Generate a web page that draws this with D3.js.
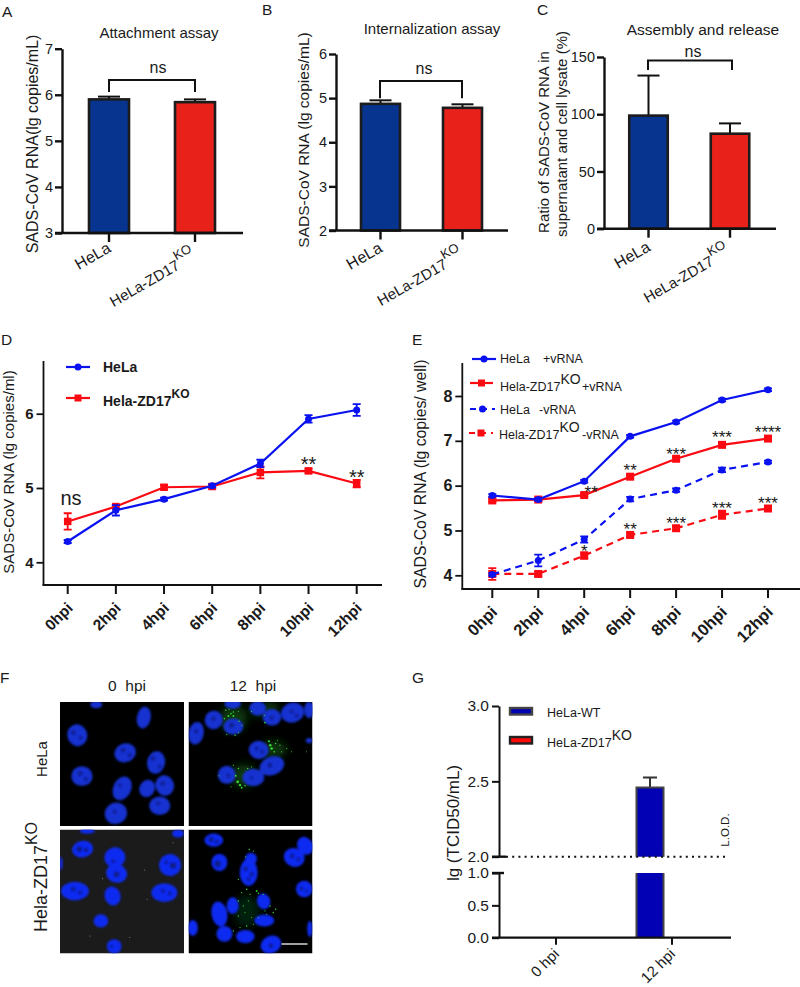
<!DOCTYPE html>
<html><head><meta charset="utf-8">
<script src="https://cdn.jsdelivr.net/npm/d3@7"></script>
<style>
html,body{margin:0;padding:0;background:#fff}
svg{display:block}
text{font-family:"Liberation Sans",Arial,sans-serif;fill:#1a1a1a}
</style></head><body>
<svg id="c" width="800" height="987"></svg>
<script>
// ---------- data ----------
const barCategories = ["HeLa", "HeLa-ZD17"];
const attachmentValues = [5.90, 5.84];
const attachmentErrors = [0.06, 0.06];
const internalizationValues = [4.87, 4.78];
const internalizationErrors = [0.08, 0.08];
const assemblyValues = [98.8, 83];
const assemblyErrors = [35, 9];

const hpiLabels = ["0hpi","2hpi","4hpi","6hpi","8hpi","10hpi","12hpi"];
const dHela = [4.28,4.70,4.85,5.03,5.33,5.93,6.05];
const dHelaErr = [0.02,0.07,0.02,0.02,0.05,0.05,0.08];
const dKo = [4.55,4.75,5.01,5.02,5.21,5.23,5.06];
const dKoErr = [0.11,0.02,0.03,0.03,0.08,0.03,0.05];
const dMarks = [[5,"**",5.36],[6,"**",5.19]];

const eHelaPlus = [5.78,5.69,6.10,7.10,7.42,7.91,8.14];
const eKoPlus = [5.67,5.69,5.79,6.20,6.60,6.91,7.05];
const eHelaMinus = [4.02,4.33,4.80,5.70,5.90,6.35,6.53];
const eHelaMinusErr = [0.03,0.13,0.07,0.05,0.04,0.05,0.03];
const eKoMinus = [4.03,4.03,4.44,4.90,5.05,5.35,5.49];
const eKoMinusErr = [0.13,0.05,0.07,0.05,0.04,0.09,0.03];
const eSmallErr = [0.03,0.03,0.03,0.03,0.03,0.03,0.03];
const eMarks = [[2,"**",5.93],[3,"**",6.42],[4,"***",6.77],[5,"***",7.15],[6,"****",7.26],
                [2,"*",4.62],[3,"**",5.11],[4,"***",5.24],[5,"***",5.57],[6,"***",5.68]];

const gCategories = ["0 hpi","12 hpi"];
const gWT = [0, 2.46];
const gWTErr = [0, 0.065];
const gKO = [0, 0];

// micrographs: nuclei [x, y, rx, ry, angle], in image units 0..373
const n00 = [[52,100,30,33,-20],[252,47,21,33,10],[196,153,33,28,-20],[289,182,27,34,10],[66,223,32,30,0],[187,260,27,37,25],[262,260,23,27,25],[315,251,28,31,-15],[300,312,32,28,0],[168,335,34,32,-20],[109,8,18,11,0]];
const n01 = [[23,94,23,34,10],[76,54,27,28,20],[135,74,30,24,0],[133,6,25,14,0],[208,19,25,22,0],[251,46,28,25,0],[313,32,35,30,-15],[363,24,15,25,0],[211,144,30,27,10],[251,192,38,28,-20],[195,227,33,26,0],[115,219,27,27,0],[363,116,10,8,0]];
const n10 = [[68,59,32,25,-10],[165,84,32,30,-20],[170,132,32,28,15],[331,107,33,33,-15],[45,185,42,28,0],[158,200,24,29,-15],[314,190,39,28,0],[123,275,22,20,0],[163,352,22,22,0],[3,102,5,20,0],[82,5,22,8,0],[355,12,18,12,0]];
const n11 = [[76,32,28,20,0],[93,99,24,26,0],[181,129,27,40,0],[188,88,18,18,0],[318,84,32,28,20],[351,49,23,28,-30],[348,179,25,25,0],[226,216,20,24,-15],[133,229,18,25,0],[93,254,24,38,-10],[108,314,24,24,0],[171,322,28,20,0],[248,346,32,26,-25],[13,296,15,24,0],[365,299,8,24,0],[228,274,30,18,0]];
// nucleoli [x, y, r]
const d00 = [[40,92,6],[62,108,5],[190,145,6],[210,160,5],[280,170,6],[300,195,5],[60,215,6],[78,232,5],[180,250,5],[310,245,6],[295,305,5],[165,330,5]];
const d10 = [[58,59,8],[78,62,6],[340,108,9],[320,98,5],[160,95,5],[170,135,8],[40,180,6],[60,190,5],[310,185,5],[330,192,5],[155,352,4]];
const d11 = [[68,30,7],[85,36,5],[88,103,9],[172,118,6],[190,135,6],[180,150,5],[312,80,6],[330,90,5],[340,178,5],[355,185,4],[248,350,6]];
const d01 = [[23,88,5],[75,50,6],[130,70,7],[205,140,5],[222,150,5],[245,190,6],[310,28,5],[325,40,5],[250,48,5],[120,222,5],[190,228,4]];
// green haze [x, y, rx, ry]
const h01 = [[135,50,40,40],[245,18,28,18],[255,143,40,24],[165,222,38,34],[210,32,28,10]];
const h11 = [[175,245,38,48]];
// green speckles [x, y, r]
const g01 = [[112,25,1.5],[122,22,1.2],[135,30,1.5],[150,28,1.2],[108,50,1.6],[120,42,2],[135,42,2],[128,35,1.6],[152,58,1.5],[160,70,1.2],[115,98,1.3],[140,100,1.5],[150,92,1.2],[230,62,1.8],[228,40,1.2],[190,28,1.2],[242,118,2.2],[246,130,2.6],[250,140,2.6],[262,125,1.5],[275,130,1.3],[258,150,1.6],[280,150,1.2],[295,140,1.2],[310,150,1],[150,200,1.5],[142,222,2],[148,240,2.8],[155,250,2.4],[160,258,1.8],[170,252,1.5],[178,200,1.6],[190,195,1.2],[92,222,1.2],[135,190,1.2],[128,255,1.2],[355,150,1],[268,115,1.2]];
const g11 = [[183,60,1.5],[195,65,1.2],[172,82,1.2],[150,150,1.3],[175,180,1.6],[205,185,1.8],[210,192,1.5],[185,195,1.3],[160,190,1.3],[150,215,1.6],[165,230,1.3],[180,215,1.2],[225,195,1.2],[245,230,1.5],[262,240,1.5],[255,250,1.5],[230,245,1.2],[150,260,1.3],[155,295,1.2],[175,290,1.5],[195,285,1.2],[135,305,1.3],[235,255,1.2],[210,265,1.1],[190,265,1.1],[170,250,1.1]];
const g10 = [[128,148,1.1],[255,122,1],[90,320,1],[210,325,1],[262,210,1],[340,40,1]];

// ---------- helpers ----------
const svg = d3.select("#c");
const BLUE="#07348f", RED="#e8221b", INK="#1a1a1a";
const LB="#0a12f0", LR="#fb0a12";

function txt(g,x,y,s,size,o={}){
  return g.append("text").attr("x",x).attr("y",y).text(s).attr("font-size",size)
    .attr("text-anchor",o.anchor||"start").attr("font-weight",o.weight||"normal")
    .attr("transform",o.rot!=null?`rotate(${o.rot},${x},${y})`:null);
}
function supLabel(g,x,y,base,sup,size,o={}){
  const t=g.append("text").attr("font-size",size).attr("x",x).attr("y",y)
    .attr("text-anchor",o.anchor||"start").attr("font-weight",o.weight||"normal")
    .attr("transform",o.rot!=null?`rotate(${o.rot},${x},${y})`:null);
  t.append("tspan").text(base);
  t.append("tspan").text(sup).attr("dy",-(o.rise||size*0.55)).attr("font-size",o.supSize||size);
  return t;
}
function styleAxis(a,w,size,weight){
  a.selectAll("path,line").attr("stroke","#111").attr("stroke-width",w);
  a.selectAll("text").attr("font-size",size).attr("font-weight",weight||"normal")
    .style("font-family",'"Liberation Sans",Arial,sans-serif').attr("fill",INK);
}

function barPanel(p){
  const g=svg.append("g");
  const y=d3.scaleLinear().domain(p.yDomain).range([p.y0,p.y1]);
  const x=d3.scalePoint().domain(barCategories).range(p.centers);
  const ax=g.append("g").attr("transform",`translate(${p.axisX},0)`)
    .call(d3.axisLeft(y).tickValues(p.ticks).tickFormat(d3.format("d")).tickSize(7).tickSizeOuter(0).tickPadding(2));
  styleAxis(ax,2.4,14.5);
  barCategories.forEach((c,i)=>{
    const cx=x(c),v=p.values[i],e=p.errors[i];
    g.append("line").attr("x1",cx).attr("x2",cx).attr("y1",y(v)).attr("y2",y(v+e)).attr("stroke","#111").attr("stroke-width",2);
    g.append("line").attr("x1",cx-p.cap).attr("x2",cx+p.cap).attr("y1",y(v+e)).attr("y2",y(v+e)).attr("stroke","#111").attr("stroke-width",2);
    g.append("rect").attr("x",cx-p.bw/2).attr("width",p.bw).attr("y",y(v)).attr("height",y(p.yDomain[0])-y(v))
      .attr("fill",i?RED:BLUE).attr("stroke","#1c1c1c").attr("stroke-width",2.6);
    g.append("line").attr("x1",cx).attr("x2",cx).attr("y1",p.y0).attr("y2",p.y0+9).attr("stroke","#111").attr("stroke-width",2.4);
  });
  g.append("line").attr("x1",p.axisX-7).attr("x2",p.xEnd).attr("y1",p.y0).attr("y2",p.y0).attr("stroke","#111").attr("stroke-width",2.4);
  const cs=p.centers,bt=y(p.bracket[0]),bb=y(p.bracket[1]);
  g.append("path").attr("d",d3.line()([[p.bracketX[0],bb],[p.bracketX[0],bt],[p.bracketX[1],bt],[p.bracketX[1],bb]]))
    .attr("fill","none").attr("stroke","#111").attr("stroke-width",2);
  txt(g,p.ns[0],p.ns[1],"ns",16,{anchor:"middle"});
  txt(g,p.title[1],p.title[2],p.title[0],p.title[3],{anchor:"middle"});
  txt(g,p.letter[1],p.letter[2],p.letter[0],15.5);
  p.yLabels.forEach(l=>txt(g,l[1],l[2],l[0],l[3],{anchor:"middle",rot:-90}));
  txt(g,cs[0]+3,p.lab[0],barCategories[0],16,{anchor:"end",rot:-30});
  supLabel(g,cs[1]+p.lab[1],p.lab[2],barCategories[1],"KO",15,{anchor:"end",rot:-30,rise:9,supSize:13});
}

barPanel({values:attachmentValues,errors:attachmentErrors,yDomain:[3,7],ticks:[3,4,5,6,7],y0:233,y1:48.7,axisX:62,xEnd:243,
  centers:[109,195],bw:40,cap:11,bracket:[6.32,6.06],bracketX:[109,195],ns:[158,73],title:["Attachment assay",159,38,15],
  letter:["A",2,17],yLabels:[["SADS-CoV RNA(lg copies/mL)",38,144,16]],lab:[251,2,259]});
barPanel({values:internalizationValues,errors:internalizationErrors,yDomain:[2,6],ticks:[2,3,4,5,6],y0:230.5,y1:54,axisX:336,xEnd:508,
  centers:[380.5,462.5],bw:39,cap:11,bracket:[5.39,5.0],bracketX:[380,462],ns:[424,74],title:["Internalization assay",432,34,15],
  letter:["B",262,15],yLabels:[["SADS-CoV RNA (lg copies/mL)",309,140,15.5]],lab:[251,2,258]});
barPanel({values:assemblyValues,errors:assemblyErrors,yDomain:[0,150],ticks:[0,50,100,150],y0:228.7,y1:57,axisX:604,xEnd:776,
  centers:[648.5,730],bw:38.5,cap:11,bracket:[147,138.6],bracketX:[648,732],ns:[693,57],title:["Assembly and release",703,35,15.5],
  letter:["C",537,15],yLabels:[["Ratio of SADS-CoV RNA in",549,142,15],["supernatant and cell lysate (%)",567,134,15]],lab:[250,1,255]});

function series(g,x,y,vals,errs,color,o={}){
  if(errs) vals.forEach((v,i)=>{
    const cx=x(hpiLabels[i]);
    g.append("path").attr("d",`M${cx-4},${y(v-errs[i])}H${cx+4}M${cx-4},${y(v+errs[i])}H${cx+4}M${cx},${y(v-errs[i])}V${y(v+errs[i])}`)
      .attr("fill","none").attr("stroke",color).attr("stroke-width",1.8);
  });
  g.append("path").datum(vals).attr("fill","none").attr("stroke",color).attr("stroke-width",2.2)
    .attr("stroke-dasharray",o.dash||null)
    .attr("d",d3.line().x((d,i)=>x(hpiLabels[i])).y(d=>y(d)));
  vals.forEach((v,i)=>marker(g,x(hpiLabels[i]),y(v),o.square,color,o.size));
}
function marker(g,cx,cy,square,color,size){
  const s=size||7.5;
  if(square) g.append("rect").attr("x",cx-s/2).attr("y",cy-s/2).attr("width",s).attr("height",s).attr("fill",color);
  else g.append("circle").attr("cx",cx).attr("cy",cy).attr("r",s/2).attr("fill",color);
}
function timeFrame(g,p){
  const y=d3.scaleLinear().domain(p.yDomain).range(p.yRange);
  const x=d3.scalePoint().domain(hpiLabels).range(p.xRange);
  const ax=g.append("g").attr("transform",`translate(${p.axisX},0)`)
    .call(d3.axisLeft(y).tickValues(p.ticks).tickFormat(d3.format("d")).tickSize(7).tickSizeOuter(0).tickPadding(3));
  styleAxis(ax,1.8,p.tickFont,"bold");
  ax.select("path").attr("d",`M0,${p.top}V${p.bottom}`);
  g.append("line").attr("x1",p.axisX-1).attr("x2",p.xEnd).attr("y1",p.bottom).attr("y2",p.bottom).attr("stroke","#111").attr("stroke-width",2);
  hpiLabels.forEach(l=>{
    g.append("line").attr("x1",x(l)).attr("x2",x(l)).attr("y1",p.bottom).attr("y2",p.bottom+9).attr("stroke","#111").attr("stroke-width",2);
    txt(g,x(l)+6,p.bottom+24,l,p.catFont,{anchor:"end",weight:"bold",rot:-45});
  });
  return {x,y};
}

// ---------- D ----------
{
  const g=svg.append("g");
  const {x,y}=timeFrame(g,{yDomain:[4,6],yRange:[562.3,413.7],xRange:[67.7,356.7],axisX:43.5,xEnd:382,top:361,bottom:585,ticks:[4,5,6],tickFont:15,catFont:15.5});
  series(g,x,y,dKo,dKoErr,LR,{square:true,size:7.5});
  series(g,x,y,dHela,dHelaErr,LB,{size:7});
  dMarks.forEach(m=>txt(g,x(hpiLabels[m[0]]),y(m[2])+10,m[1],20,{anchor:"middle"}));
  txt(g,71,505,"ns",20,{anchor:"middle"});
  txt(g,1,345,"D",15.5);
  txt(g,14,472,"SADS-CoV RNA (lg copies/ml)",15,{anchor:"middle",rot:-90});
  g.append("line").attr("x1",66).attr("x2",90).attr("y1",367).attr("y2",367).attr("stroke",LB).attr("stroke-width",2.2);
  marker(g,78,367,false,LB,7);
  g.append("line").attr("x1",66).attr("x2",90).attr("y1",398).attr("y2",398).attr("stroke",LR).attr("stroke-width",2.2);
  marker(g,78,398,true,LR,7);
  txt(g,103,372,"HeLa",14,{weight:"bold"});
  supLabel(g,103,406,"Hela-ZD17","KO",14,{weight:"bold",rise:8,supSize:12});
}
// ---------- E ----------
{
  const g=svg.append("g");
  const {x,y}=timeFrame(g,{yDomain:[4,8],yRange:[575.3,396],xRange:[492.3,768],axisX:462.3,xEnd:800,top:363,bottom:589,ticks:[4,5,6,7,8],tickFont:16,catFont:16.5});
  series(g,x,y,eKoMinus,eKoMinusErr,LR,{square:true,dash:"7,5",size:8});
  series(g,x,y,eHelaMinus,eHelaMinusErr,LB,{dash:"7,5",size:7});
  series(g,x,y,eKoPlus,eSmallErr,LR,{square:true,size:8});
  series(g,x,y,eHelaPlus,eSmallErr,LB,{size:7});
  eMarks.forEach(m=>txt(g,x(hpiLabels[m[0]])+(m[0]==2&&m[1]=="**"?7:0),y(m[2])+9,m[1],17,{anchor:"middle"}));
  txt(g,412,345,"E",15.5);
  txt(g,426,474,"SADS-CoV RNA (lg copies/ well)",15.8,{anchor:"middle",rot:-90});
  const leg=(x1,x2,ly,c,sq,dash)=>{
    g.append("line").attr("x1",x1).attr("x2",x2).attr("y1",ly).attr("y2",ly).attr("stroke",c).attr("stroke-width",2.2).attr("stroke-dasharray",dash||null);
    marker(g,(x1+x2)/2,ly,sq,c,7);
  };
  leg(472,496,359,LB,false); leg(470,493,383,LR,true);
  leg(470,495,409,LB,false,"6,5"); leg(469,493,433,LR,true,"6,5");
  txt(g,500,363,"HeLa",12.5); txt(g,543,363,"+vRNA",12.5);
  supLabel(g,500,391,"Hela-ZD17","KO",12.5,{rise:7,supSize:14});
  txt(g,582,391,"+vRNA",12.5);
  txt(g,500,414,"HeLa",12.5); txt(g,539,414,"-vRNA",12.5);
  supLabel(g,499,439,"Hela-ZD17","KO",12.5,{rise:7,supSize:14});
  txt(g,582,439,"-vRNA",12.5);
}
// ---------- F ----------
{
  const g=svg.append("g");
  const defs=svg.append("defs");
  defs.append("filter").attr("id","soft").append("feGaussianBlur").attr("stdDeviation",0.9);
  defs.append("filter").attr("id","dark").append("feGaussianBlur").attr("stdDeviation",1.2);
  defs.append("filter").attr("id","haze").attr("x","-50%").attr("y","-50%").attr("width","200%").attr("height","200%").append("feGaussianBlur").attr("stdDeviation",4);
  const panels=[
    {x:60,y:702,bg:"#000",n:n00,d:d00,s:[],h:[]},
    {x:188.5,y:702,bg:"#000",n:n01,d:d01,s:g01,h:h01,green:"#35d635",haze:"#0a3a0d"},
    {x:60,y:829.5,bg:"#1b1b1b",n:n10,d:d10,s:g10,h:[],green:"#999999"},
    {x:188.5,y:829.5,bg:"#000",n:n11,d:d11,s:g11,h:h11,green:"#35d635",haze:"#04200a"}];
  panels.forEach((p,k)=>{
    const sx=d3.scaleLinear().domain([0,373]).range([p.x,p.x+124]);
    const sy=d3.scaleLinear().domain([0,373]).range([p.y,p.y+124]);
    const k3=124/373;
    defs.append("clipPath").attr("id","cp"+k).append("rect").attr("x",p.x).attr("y",p.y).attr("width",124).attr("height",124);
    const c=g.append("g").attr("clip-path",`url(#cp${k})`);
    c.append("rect").attr("x",p.x).attr("y",p.y).attr("width",124).attr("height",124).attr("fill",p.bg);
    c.append("g").attr("filter","url(#haze)").selectAll("ellipse").data(p.h).join("ellipse")
      .attr("cx",d=>sx(d[0])).attr("cy",d=>sy(d[1])).attr("rx",d=>d[2]*k3).attr("ry",d=>d[3]*k3).attr("fill",p.haze||"none");
    const nuc=c.append("g").attr("filter","url(#soft)");
    nuc.selectAll("ellipse").data(p.n).join("ellipse")
      .attr("cx",d=>sx(d[0])).attr("cy",d=>sy(d[1])).attr("rx",d=>d[2]*k3).attr("ry",d=>d[3]*k3)
      .attr("transform",d=>`rotate(${d[4]},${sx(d[0])},${sy(d[1])})`)
      .attr("fill",k==2||k==3?"#0f2bf0":"#1433d0");
    c.append("g").attr("filter","url(#dark)").selectAll("circle").data(p.d).join("circle")
      .attr("cx",d=>sx(d[0])).attr("cy",d=>sy(d[1])).attr("r",d=>d[2]*k3).attr("fill","#0a1a80");
    c.append("g").selectAll("circle").data(p.s).join("circle")
      .attr("cx",d=>sx(d[0])).attr("cy",d=>sy(d[1])).attr("r",d=>d[2]*0.5).attr("fill",p.green);
  });
  g.append("line").attr("x1",281.5).attr("x2",307.5).attr("y1",944).attr("y2",944).attr("stroke","#e6e6e6").attr("stroke-width",1.4);
  txt(g,0,683,"F",15.5);
  txt(g,127,691,"0  hpi",15.5,{anchor:"middle"}).style("white-space","pre");
  txt(g,253,691,"12  hpi",15.5,{anchor:"middle"}).style("white-space","pre");
  txt(g,47,759,"HeLa",15,{anchor:"middle",rot:-90});
  supLabel(g,47,877,"Hela-ZD17","KO",18,{anchor:"middle",rot:-90,rise:10,supSize:16});
}
// ---------- G ----------
{
  const g=svg.append("g");
  const yU=d3.scaleLinear().domain([2,3]).range([856.7,706]);
  const yL=d3.scaleLinear().domain([0,1]).range([937.7,873]);
  const x0=d3.scalePoint().domain(gCategories).range([556,672]);
  const axU=g.append("g").attr("transform","translate(499,0)").call(d3.axisLeft(yU).tickValues([2,2.5,3]).tickFormat(d3.format(".1f")).tickSize(7).tickSizeOuter(0).tickPadding(3));
  const axL=g.append("g").attr("transform","translate(499,0)").call(d3.axisLeft(yL).tickValues([0,0.5,1]).tickFormat(d3.format(".1f")).tickSize(7).tickSizeOuter(0).tickPadding(3));
  styleAxis(axU,2,15.5); styleAxis(axL,2,15.5);
  g.append("line").attr("x1",492).attr("x2",506).attr("y1",yU(2)).attr("y2",yU(2)).attr("stroke","#111").attr("stroke-width",2.4);
  g.append("line").attr("x1",492).attr("x2",504).attr("y1",yL(1)).attr("y2",yL(1)).attr("stroke","#111").attr("stroke-width",2.4);
  const bw=27, off=-22;
  gCategories.forEach((c,i)=>{
    const v=gWT[i]; if(!v) return;
    const cx=x0(c)+off;
    g.append("path").attr("d",`M${cx},${yU(v)}V${yU(v+gWTErr[i])}M${cx-7},${yU(v+gWTErr[i])}H${cx+7}`).attr("stroke","#333").attr("stroke-width",2).attr("fill","none");
    g.append("path").attr("d",`M${cx-bw/2},${yU(2)}V${yU(v)}H${cx+bw/2}V${yU(2)}`).attr("fill","#0202b4").attr("stroke","#444").attr("stroke-width",2);
    g.append("path").attr("d",`M${cx-bw/2},${yL(0)}V${yL(1)}H${cx+bw/2}V${yL(0)}Z`).attr("fill","#0202b4");
    g.append("path").attr("d",`M${cx-bw/2},${yL(0)}V${yL(1)}M${cx+bw/2},${yL(1)}V${yL(0)}`).attr("stroke","#444").attr("stroke-width",2);
  });
  g.append("line").attr("x1",506).attr("x2",728).attr("y1",yU(2)).attr("y2",yU(2)).attr("stroke","#111").attr("stroke-width",2).attr("stroke-dasharray","2,4.2");
  g.append("line").attr("x1",492).attr("x2",731).attr("y1",yL(0)).attr("y2",yL(0)).attr("stroke","#111").attr("stroke-width",2.2);
  gCategories.forEach(c=>{
    g.append("line").attr("x1",x0(c)).attr("x2",x0(c)).attr("y1",yL(0)).attr("y2",yL(0)+7).attr("stroke","#111").attr("stroke-width",2);
    txt(g,x0(c)+4,955,c,15,{anchor:"end",rot:-45});
  });
  g.append("rect").attr("x",510).attr("y",708).attr("width",22).attr("height",6.5).attr("fill","#0202b4").attr("stroke","#444").attr("stroke-width",2.4);
  g.append("rect").attr("x",510).attr("y",737).attr("width",22).attr("height",6.5).attr("fill","#fb0a0a").attr("stroke","#222").attr("stroke-width",2.4);
  txt(g,547,717,"HeLa-WT",12.5);
  supLabel(g,547,747,"HeLa-ZD17","KO",12.5,{rise:7,supSize:14});
  txt(g,729,830,"L.O.D.",11.5,{anchor:"middle",rot:-90});
  txt(g,412,683,"G",15.5);
  txt(g,459,823,"lg (TCID50/mL)",17,{anchor:"middle",rot:-90});
}
</script>
</body></html>
